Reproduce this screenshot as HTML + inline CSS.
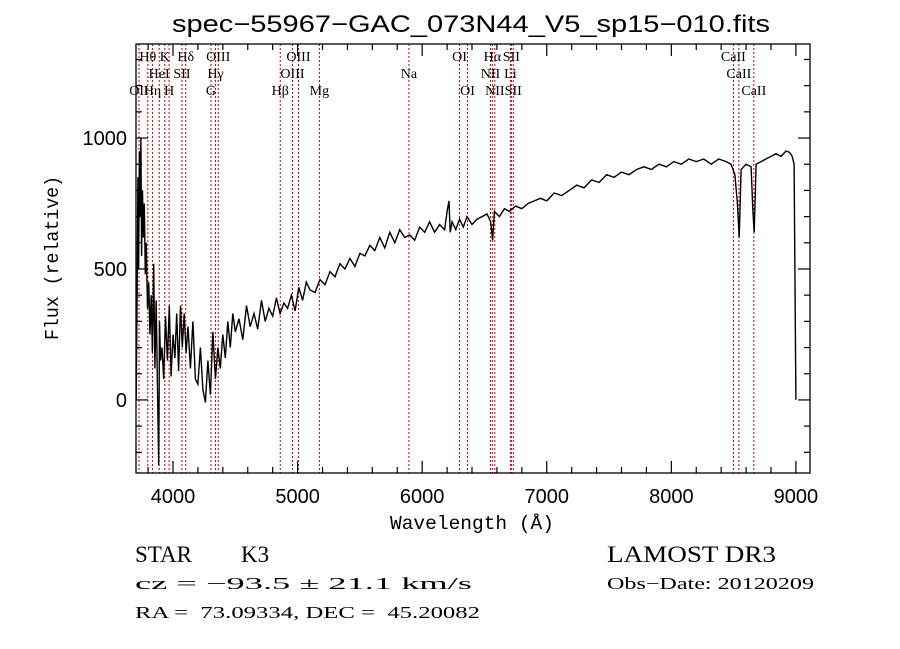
<!DOCTYPE html>
<html><head><meta charset="utf-8"><style>
html,body{margin:0;padding:0;background:#fff;width:900px;height:649px;overflow:hidden}
svg{display:block}
text{fill:#000;white-space:pre}
</style></head><body>
<svg id="chart" width="900" height="649" xmlns="http://www.w3.org/2000/svg" xml:space="preserve">
<text x="471" y="32" text-anchor="middle" font-family="Liberation Sans, sans-serif" font-size="24" textLength="598" lengthAdjust="spacingAndGlyphs">spec−55967−GAC_073N44_V5_sp15−010.fits</text>
<g id="lines"></g>
<g id="labels" font-family="Liberation Serif, serif" font-size="14"></g>
<path id="spec" fill="none" stroke="#000" stroke-width="1.4"></path>
<rect x="136" y="44" width="674" height="429" fill="none" stroke="#000" stroke-width="1.3"></rect>
<g id="axes" stroke="#000" stroke-width="1.2"></g>
<g id="ticklabels" font-family="Liberation Sans, sans-serif" font-size="20"></g>
<text x="472" y="529" text-anchor="middle" font-family="Liberation Mono, monospace" font-size="19" textLength="164" lengthAdjust="spacingAndGlyphs">Wavelength (Å)</text>
<text transform="translate(58,258) rotate(-90)" text-anchor="middle" font-family="Liberation Mono, monospace" font-size="19" textLength="164" lengthAdjust="spacingAndGlyphs">Flux (relative)</text>
<g font-family="Liberation Serif, serif">
<text x="135" y="562" font-size="23">STAR</text>
<text x="241" y="562" font-size="23">K3</text>
<text x="135" y="589" font-size="17" textLength="337" lengthAdjust="spacingAndGlyphs">cz = −93.5 ± 21.1 km/s</text>
<text x="135" y="618" font-size="17" textLength="345" lengthAdjust="spacingAndGlyphs">RA =  73.09334, DEC =  45.20082</text>
<text x="607" y="562" font-size="23" textLength="169" lengthAdjust="spacingAndGlyphs">LAMOST DR3</text>
<text x="607" y="589" font-size="17" textLength="207" lengthAdjust="spacingAndGlyphs">Obs−Date: 20120209</text>
</g>
</svg>
<script>
const wave=[3705,3712,3718,3724,3730,3736,3742,3748,3755,3762,3770,3778,3785,3795,3805,3815,3825,3835,3845,3855,3865,3875,3885,3892,3900,3912,3925,3940,3955,3970,3985,4000,4015,4030,4045,4060,4075,4090,4105,4120,4140,4160,4180,4200,4220,4240,4260,4280,4300,4320,4340,4360,4380,4400,4420,4440,4460,4480,4500,4530,4560,4590,4620,4650,4680,4710,4740,4770,4800,4830,4860,4890,4920,4950,4980,5010,5040,5070,5100,5140,5180,5220,5260,5300,5340,5380,5420,5460,5500,5540,5580,5620,5660,5700,5740,5780,5820,5860,5900,5940,5980,6020,6060,6100,6140,6180,6200,6215,6225,6240,6270,6300,6330,6360,6400,6440,6480,6520,6550,6565,6580,6620,6660,6700,6750,6800,6850,6900,6950,7000,7060,7120,7180,7240,7300,7360,7420,7480,7540,7600,7660,7720,7780,7840,7900,7960,8020,8080,8140,8200,8260,8320,8380,8440,8480,8510,8530,8545,8560,8600,8640,8655,8665,8680,8720,8760,8800,8840,8880,8920,8950,8970,8985,8992,8996,9000];
const flux=[0,400,850,500,950,700,1000,550,800,620,750,480,600,350,450,250,400,180,520,120,380,60,-250,300,150,200,80,320,150,360,90,250,160,330,110,360,200,330,180,280,120,300,80,60,200,40,-10,150,20,260,80,200,120,250,160,300,200,330,260,310,230,360,280,330,270,380,300,350,320,390,330,370,350,400,340,430,380,450,420,410,460,440,490,470,520,500,540,510,560,550,590,570,620,580,640,600,650,620,630,610,660,640,680,640,670,650,720,760,640,680,650,690,660,700,670,690,700,710,680,610,720,700,730,720,740,730,750,760,770,760,790,780,800,820,810,840,830,860,850,870,860,880,890,880,900,890,910,900,920,910,920,900,920,910,900,860,750,620,880,900,890,720,640,900,910,920,930,940,930,950,945,930,900,500,250,0];
const lineWave=[3727,3798,3835,3889,3934,3969,4072,4102,4305,4341,4363,4861,4959,5007,5175,5894,6300,6364,6548,6563,6583,6708,6716,6731,8498,8542,8662];
const labelText=["OII","Hθ","Hη","HeI","K","H","SII","Hδ","G","Hγ","OIII","Hβ","OIII","OIII","Mg","Na","OI","OI","NII","Hα","NII","Li","SII","SII","CaII","CaII","CaII"];
const labelRow=[2,0,2,1,0,2,1,0,2,1,0,2,1,0,2,1,0,2,1,0,2,1,0,2,0,1,2];
const xTicks=[4000,5000,6000,7000,8000,9000];
const yTicks=[0,500,1000];

const X0=136,X1=810,Y0=473,Y1=44,WMIN=3703,WMAX=9113,FMIN=-279,FMAX=1359;
const xs=w=>X0+(w-WMIN)/(WMAX-WMIN)*(X1-X0);
const ys=f=>Y0-(f-FMIN)/(FMAX-FMIN)*(Y0-Y1);
const NS="http://www.w3.org/2000/svg";
function mk(tag,attrs,parent){const e=document.createElementNS(NS,tag);for(const k in attrs)e.setAttribute(k,attrs[k]);parent.appendChild(e);return e;}

let d="";
for(let i=0;i<wave.length;i++){d+=(i?"L":"M")+xs(wave[i]).toFixed(1)+","+ys(Math.max(FMIN,flux[i])).toFixed(1);}
document.getElementById("spec").setAttribute("d",d);

const lg=document.getElementById("lines"),lb=document.getElementById("labels");
const rowY=[61,78,95];
for(let i=0;i<lineWave.length;i++){
  const x=xs(lineWave[i]);
  const ln=mk("line",{x1:x,x2:x,y1:44,y2:473,stroke:"#c00000","stroke-width":1,"stroke-dasharray":"2,2"},lg);
  
  
  const t=mk("text",{x:x,y:rowY[labelRow[i]],"text-anchor":"middle"},lb);
  t.textContent=labelText[i];
  
  
}

const ax=document.getElementById("axes"),tl=document.getElementById("ticklabels");
for(let w=3800;w<=9100;w+=200){
  const x=xs(w),maj=w%1000===0,L=maj?12:6;
  const a=mk("line",{x1:x,x2:x,y1:473,y2:473-L},ax);
  
  const b=mk("line",{x1:x,x2:x,y1:44,y2:44+L},ax);
  
}
for(const v of xTicks){const t=mk("text",{x:xs(v),y:503,"text-anchor":"middle"},tl);t.textContent=v;
  }
for(let f=-200;f<=1300;f+=100){
  const y=ys(f),maj=f%500===0,L=maj?12:6;
  const a=mk("line",{x1:136,x2:136+L,y1:y,y2:y},ax);
  
  const b=mk("line",{x1:810,x2:810-L,y1:y,y2:y},ax);
  
}
for(const v of yTicks){const t=mk("text",{x:127,y:ys(v)+7,"text-anchor":"end"},tl);t.textContent=v;
  }
</script>
</body></html>
